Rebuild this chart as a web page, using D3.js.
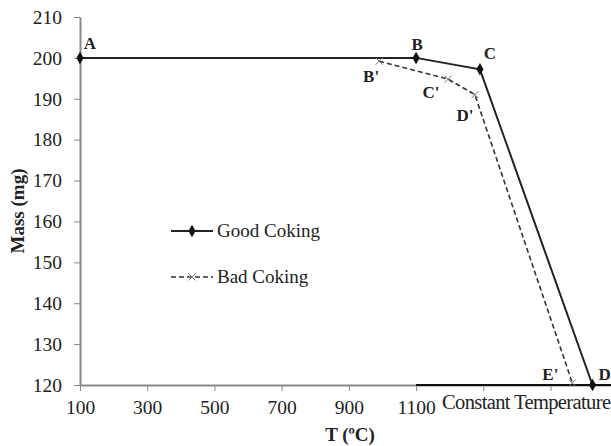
<!DOCTYPE html>
<html>
<head>
<meta charset="utf-8">
<script src="https://cdn.jsdelivr.net/npm/d3@7"></script>
<style>
  body { margin: 0; background: #fff; }
  text { font-family: "Liberation Serif", "DejaVu Serif", serif; fill: #222; }
</style>
</head>
<body>
<svg id="chart" width="611" height="446"></svg>
<script>
// data
const goodT = [100, 1100, 1290, 1625];
const goodMass = [200, 200, 197.2, 120];
const goodLabels = ['A', 'B', 'C', 'D'];
// bad coking runs on top of good coking from A up to B'
const badT = [990, 1195, 1275, 1565];
const badMass = [199.2, 194.8, 191, 120.5];
const badLabels = ["B'", "C'", "D'", "E'"];
const xTicks = [100, 300, 500, 700, 900, 1100, 1300, 1500];
const xTickLabels = ['100', '300', '500', '700', '900', '1100', '', ''];
const yTicks = [120, 130, 140, 150, 160, 170, 180, 190, 200, 210];

const svg = d3.select('#chart');
const x = d3.scaleLinear().domain([100, 1680]).range([80, 611]);
const y = d3.scaleLinear().domain([120, 210]).range([385, 17]);

// axes
const xAxis = svg.append('g').attr('transform', 'translate(0,385)')
  .call(d3.axisBottom(x).tickValues(xTicks).tickFormat((d, i) => xTickLabels[i]).tickSize(6).tickSizeOuter(0));
xAxis.select('.domain').attr('stroke', '#888').attr('stroke-width', 2);
xAxis.selectAll('.tick line').attr('stroke', '#888');
xAxis.selectAll('.tick text').attr('font-size', 19.5).attr('y', 29).attr('dy', 0).attr('fill', '#222');

const yAxis = svg.append('g').attr('transform', 'translate(80,0)')
  .call(d3.axisLeft(y).tickValues(yTicks).tickSize(6).tickSizeOuter(0));
yAxis.select('.domain').attr('stroke', '#888').attr('stroke-width', 2);
yAxis.selectAll('.tick line').attr('stroke', '#888');
yAxis.selectAll('.tick text').attr('font-size', 19.5).attr('x', -18).attr('fill', '#222');

// constant temperature bar
svg.append('line')
  .attr('x1', x(1100)).attr('x2', 611)
  .attr('y1', y(120)).attr('y2', y(120))
  .attr('stroke', '#111').attr('stroke-width', 2);
svg.append('text').attr('x', 442).attr('y', 409)
  .attr('font-size', 20.5).attr('textLength', 169).text('Constant Temperature');

// axis titles
svg.append('text').attr('x', 350).attr('y', 441).attr('text-anchor', 'middle')
  .attr('font-size', 19).attr('font-weight', 'bold').text('T (ºC)');
svg.append('text').attr('transform', 'translate(24,211) rotate(-90)')
  .attr('text-anchor', 'middle').attr('font-size', 19).attr('font-weight', 'bold').text('Mass (mg)');

const line = d3.line().x(d => x(d[0])).y(d => y(d[1]));
const good = goodT.map((t, i) => [t, goodMass[i]]);
const bad = badT.map((t, i) => [t, badMass[i]]);

svg.append('path').datum(bad).attr('d', line).attr('fill', 'none')
  .attr('stroke', '#333').attr('stroke-width', 1.6).attr('stroke-dasharray', '5,3');
svg.append('path').datum(good).attr('d', line).attr('fill', 'none')
  .attr('stroke', '#222').attr('stroke-width', 2);

const diamond = d3.symbol().type(d3.symbolDiamond).size(45);
function cross(g, cx, cy) {
  g.append('path').attr('d', `M${cx-3.5},${cy-3.5}L${cx+3.5},${cy+3.5}M${cx-3.5},${cy+3.5}L${cx+3.5},${cy-3.5}`)
    .attr('stroke', '#777').attr('stroke-width', 1);
}
good.forEach(d => {
  svg.append('path').attr('d', diamond).attr('transform', `translate(${x(d[0])},${y(d[1])})`).attr('fill', '#111');
});
bad.forEach(d => cross(svg, x(d[0]), y(d[1])));

// point labels
const goodOff = [[10, -9], [1, -8], [10, -10], [12, -5]];
goodLabels.forEach((l, i) => {
  svg.append('text').attr('x', x(goodT[i]) + goodOff[i][0]).attr('y', y(goodMass[i]) + goodOff[i][1])
    .attr('text-anchor', 'middle').attr('font-size', 17).attr('font-weight', 'bold').text(l);
});
const badOff = [[-8, 21], [-17, 19], [-10, 26], [-22, -3]];
badLabels.forEach((l, i) => {
  svg.append('text').attr('x', x(badT[i]) + badOff[i][0]).attr('y', y(badMass[i]) + badOff[i][1])
    .attr('text-anchor', 'middle').attr('font-size', 17).attr('font-weight', 'bold').text(l);
});

// legend
const lg = svg.append('g');
lg.append('line').attr('x1', 171).attr('x2', 213).attr('y1', 231).attr('y2', 231).attr('stroke', '#222').attr('stroke-width', 2);
lg.append('path').attr('d', diamond).attr('transform', 'translate(192,231)').attr('fill', '#111');
lg.append('text').attr('x', 217).attr('y', 237).attr('font-size', 19).text('Good Coking');
lg.append('line').attr('x1', 171).attr('x2', 213).attr('y1', 277).attr('y2', 277).attr('stroke', '#333').attr('stroke-width', 1.6).attr('stroke-dasharray', '5,3');
cross(lg, 192, 277);
lg.append('text').attr('x', 217).attr('y', 283).attr('font-size', 19).text('Bad Coking');
</script>
</body>
</html>
